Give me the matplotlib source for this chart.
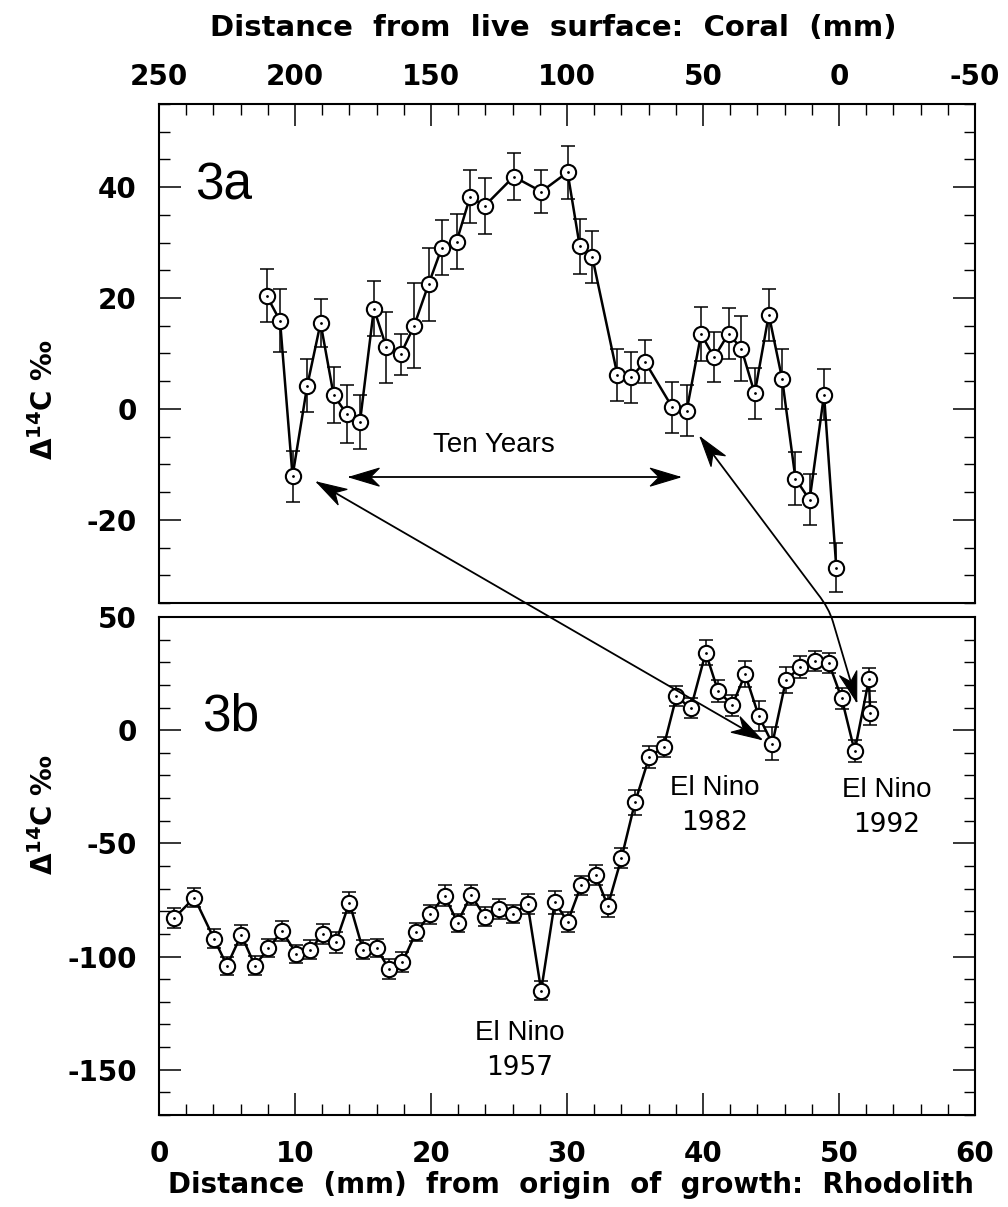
import numpy as np
import matplotlib
matplotlib.use('Agg')
import matplotlib.pyplot as plt
from matplotlib.ticker import MultipleLocator
from matplotlib.patches import Polygon, PathPatch
from matplotlib.path import Path

# coral record (top panel), x = distance from live surface (mm)
coral_x = [210.4, 205.5, 200.9, 195.5, 190.6, 185.8, 181.0, 176.1, 171.0, 166.4,
           161.1, 156.2, 150.9, 146.0, 140.6, 135.6, 130.3, 119.6, 109.4, 99.8,
           95.3, 90.7, 81.5, 76.5, 71.3, 61.3, 56.0, 50.7, 45.9, 40.6,
           35.9, 31.0, 25.8, 20.9, 16.0, 10.8, 5.5, 1.0]
coral_d14c = [20.4, 15.9, -12.1, 4.2, 15.5, 2.5, -0.9, -2.3, 18.1, 11.1,
              9.9, 15.0, 22.5, 29.1, 30.2, 38.3, 36.6, 41.9, 39.2, 42.7,
              29.3, 27.4, 6.2, 5.7, 8.5, 0.3, -0.3, 13.5, 9.3, 13.6,
              10.9, 2.8, 17.0, 5.4, -12.6, -16.4, 2.6, -28.6]
coral_err = [4.8, 5.7, 4.6, 4.8, 4.4, 5.0, 5.2, 4.9, 5.0, 6.4,
             3.7, 7.7, 6.6, 5.0, 5.0, 4.8, 5.1, 4.3, 3.9, 4.8,
             4.9, 4.7, 4.7, 4.6, 3.9, 4.6, 4.6, 4.9, 4.5, 4.6,
             5.8, 4.6, 4.7, 5.5, 4.8, 4.6, 4.6, 4.4]

# rhodolith record (bottom panel), x = distance from origin of growth (mm)
rhod_x = [1.1, 2.6, 4.05, 5.0, 6.05, 7.05, 8.05, 9.05, 10.1, 11.1,
          12.05, 13.0, 14.0, 15.0, 16.0, 16.9, 17.9, 18.9, 19.95, 21.0,
          21.95, 22.95, 23.95, 25.0, 26.0, 27.1, 28.1, 29.1, 30.05, 31.05,
          32.1, 33.0, 34.0, 35.0, 36.05, 37.1, 38.05, 39.1, 40.2, 41.1,
          42.15, 43.1, 44.1, 45.1, 46.1, 47.15, 48.2, 49.25, 50.2, 51.15,
          52.2, 52.3]
rhod_d14c = [-83.1, -74.0, -92.2, -104.0, -90.4, -104.0, -96.3, -88.7, -98.8, -97.1,
             -90.1, -93.7, -76.2, -97.1, -96.3, -105.4, -102.5, -89.3, -81.3, -73.1,
             -85.0, -72.8, -82.4, -79.0, -81.3, -76.8, -115.0, -76.0, -84.6, -68.4,
             -64.0, -77.6, -56.6, -31.9, -11.8, -7.4, 15.0, 9.6, 34.3, 17.4,
             11.0, 24.7, 6.2, -5.9, 22.1, 27.9, 30.4, 29.7, 14.0, -9.3,
             22.4, 7.4]
rhod_err = [4.4, 4.2, 4.2, 4.0, 4.4, 4.2, 4.0, 4.4, 4.0, 4.2,
            4.4, 4.6, 4.6, 4.2, 4.0, 4.4, 4.4, 4.0, 4.2, 4.6,
            4.0, 4.6, 4.2, 4.4, 4.0, 4.6, 4.2, 5.0, 4.4, 4.2,
            4.4, 5.0, 4.4, 5.4, 5.0, 4.6, 4.4, 4.4, 5.7, 4.8,
            4.6, 5.7, 6.6, 7.2, 5.6, 4.8, 4.4, 4.6, 4.6, 4.8,
            5.0, 5.2]

plt.rcParams['font.family'] = ['DejaVu Sans']
plt.rcParams['font.weight'] = 'bold'
plt.rcParams['axes.unicode_minus'] = False
plt.rcParams['mathtext.fontset'] = 'dejavusans'

W, H = 1008, 1207
fig = plt.figure(figsize=(W / 100, H / 100), dpi=100)
ax1 = fig.add_axes([159 / W, 1 - 603 / H, 816 / W, 499 / H])
ax2 = fig.add_axes([159 / W, 1 - 1115 / H, 816 / W, 498 / H])


def draw_series(ax, x, y, err):
    ax.errorbar(x, y, yerr=err, fmt='none', ecolor='k', elinewidth=1.1,
                capsize=5, capthick=1.1, zorder=2)
    ax.plot(x, y, '-o', color='k', lw=1.8, ms=11, mfc='white', mec='k',
            mew=1.5, zorder=3)
    ax.plot(x, y, '.', color='k', ms=2, zorder=4)


draw_series(ax1, coral_x, coral_d14c, coral_err)
draw_series(ax2, rhod_x, rhod_d14c, rhod_err)

# top panel axes
ax1.set_xlim(250, -50)
ax1.set_ylim(-35, 55)
ax1.xaxis.set_major_locator(MultipleLocator(50))
ax1.xaxis.set_minor_locator(MultipleLocator(10))
ax1.yaxis.set_major_locator(MultipleLocator(20))
ax1.yaxis.set_minor_locator(MultipleLocator(5))
ax1.tick_params(axis='x', which='both', direction='in', top=True, bottom=False,
                labeltop=True, labelbottom=False)
ax1.tick_params(axis='x', which='major', pad=9)

# bottom panel axes
ax2.set_xlim(0, 60)
ax2.set_ylim(-170, 50)
ax2.xaxis.set_major_locator(MultipleLocator(10))
ax2.xaxis.set_minor_locator(MultipleLocator(2))
ax2.yaxis.set_major_locator(MultipleLocator(50))
ax2.yaxis.set_minor_locator(MultipleLocator(10))
ax2.tick_params(axis='x', which='both', direction='in', top=False, bottom=True)
ax2.tick_params(axis='x', which='major', pad=18)

for ax in (ax1, ax2):
    ax.tick_params(axis='y', which='both', direction='in', left=True, right=True)
    ax.tick_params(axis='y', which='major', pad=16)
    ax.tick_params(which='major', length=16, width=1.1, labelsize=20)
    ax.tick_params(which='minor', length=8, width=1.0)
    for s in ax.spines.values():
        s.set_linewidth(1.5)

# panel labels and notes
txt = dict(family='Liberation Sans', weight='normal', color='k')
ax1.text(236.9, 37.7, '3a', fontsize=37, ha='left', va='baseline', **txt)
ax2.text(3.2, 0.0, '3b', fontsize=37, ha='left', va='baseline', **txt)
ax1.text(126.9, -7.8, 'Ten Years', fontsize=20, ha='center', va='baseline', **txt)
for xx, yy, yr in [(26.5, -136.8, '1957'), (40.85, -28.6, '1982'), (53.5, -29.5, '1992')]:
    ax2.text(xx, yy, 'El Nino', fontsize=20, ha='center', va='baseline', **txt)
    ax2.text(xx, yy - 15.5, yr, fontsize=19, ha='center', va='baseline',
             family='DejaVu Sans', weight='normal')

fig.text(553 / W, 1 - 28 / H, 'Distance  from  live  surface:  Coral  (mm)',
         fontsize=21, ha='center', va='center')
fig.text(571 / W, 1 - 1185 / H, 'Distance  (mm)  from  origin  of  growth:  Rhodolith',
         fontsize=20, ha='center', va='center')
ylab = 'Δ$^{\\mathbf{14}}$C ‰'
fig.text(44 / W, 1 - 400 / H, ylab, fontsize=20, rotation=90, ha='center', va='center')
fig.text(44 / W, 1 - 815 / H, ylab, fontsize=20, rotation=90, ha='center', va='center')


# arrows drawn at figure level so they can cross between the panels
def to_fig(ax, x, y):
    p = ax.transData.transform((x, y))
    return np.array([p[0] / W, p[1] / H])


def stealth(tip, tail, length=30, half=9, notch=9):
    tip_px = np.array([tip[0] * W, tip[1] * H])
    tail_px = np.array([tail[0] * W, tail[1] * H])
    d = tip_px - tail_px
    d = d / np.hypot(*d)
    n = np.array([-d[1], d[0]])
    pts = [tip_px, tip_px - d * length + n * half, tip_px - d * (length - notch),
           tip_px - d * length - n * half]
    pts = [(p[0] / W, p[1] / H) for p in pts]
    fig.add_artist(Polygon(pts, closed=True, facecolor='k', edgecolor='k',
                           lw=0.8, transform=fig.transFigure, zorder=6))


def arrow_path(points, codes):
    fig.add_artist(PathPatch(Path(points, codes), facecolor='none', edgecolor='k',
                             lw=1.3, transform=fig.transFigure, zorder=5))


# ten years
a = to_fig(ax1, 180, -12.3)
b = to_fig(ax1, 58.4, -12.3)
arrow_path([a, b], [Path.MOVETO, Path.LINETO])
stealth(a, b)
stealth(b, a)

# 1957 <-> 1982
a = to_fig(ax1, 192, -13.2)
b = to_fig(ax2, 44.3, -4.1)
arrow_path([a, b], [Path.MOVETO, Path.LINETO])
stealth(a, b)
stealth(b, a)

# 1982 <-> 1992
p0 = to_fig(ax1, 51, -5.1)
p1 = to_fig(ax1, 7.75, -33.4)
pc = to_fig(ax1, 3.7, -35.9)
p2 = to_fig(ax2, 49.56, 47.8)
p3 = to_fig(ax2, 51.3, 12.5)
arrow_path([p0, p1, pc, p2, p3],
           [Path.MOVETO, Path.LINETO, Path.CURVE3, Path.CURVE3, Path.LINETO])
stealth(p0, p1)
stealth(p3, p2)

fig.savefig('out.png', dpi=100)
